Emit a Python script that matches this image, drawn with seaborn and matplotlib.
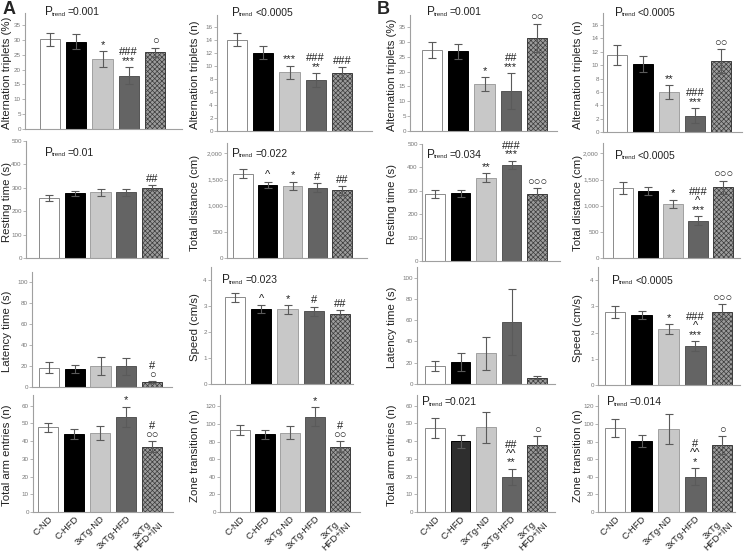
import pandas as pd
import seaborn as sns
from matplotlib import pyplot as plt
from matplotlib.ticker import FuncFormatter

W, H = 746, 552

groups = ["C-ND", "C-HFD", "3xTg-ND", "3xTg-HFD", "3xTg\nHFD+INI"]

# ---- panel A : mean and SEM per group ----
a_alt_pct = [30.1, 29.4, 23.5, 17.9, 25.8]
a_alt_pct_sem = [2.1, 2.4, 2.6, 2.9, 1.6]
a_alt_n = [14.0, 12.0, 9.0, 7.8, 8.9]
a_alt_n_sem = [1.0, 1.0, 1.0, 1.1, 0.85]
a_rest = [257, 276, 281, 281, 300]
a_rest_sem = [14, 9, 14, 14, 11]
a_dist = [1610, 1395, 1380, 1345, 1295]
a_dist_sem = [88, 63, 82, 84, 83]
a_lat = [18.6, 17.4, 20.4, 19.9, 4.6]
a_lat_sem = [5.4, 3.8, 8.5, 8.0, 1.0]
a_speed = [3.34, 2.89, 2.87, 2.80, 2.69]
a_speed_sem = [0.17, 0.14, 0.16, 0.18, 0.15]
a_arm = [47.9, 44.1, 44.5, 53.6, 36.9]
a_arm_sem = [2.5, 2.9, 3.8, 5.7, 2.9]
a_zone = [93.1, 88.1, 90.0, 108.0, 74.3]
a_zone_sem = [5.8, 5.4, 7.3, 10.8, 6.2]

# ---- panel B ----
b_alt_pct = [27.2, 26.8, 15.7, 13.4, 31.3]
b_alt_pct_sem = [2.8, 2.6, 2.3, 6.0, 4.8]
b_alt_n = [11.5, 10.15, 6.0, 2.45, 10.65]
b_alt_n_sem = [1.5, 1.15, 1.0, 1.1, 1.75]
b_rest = [286, 289, 356, 410, 286]
b_rest_sem = [18, 14, 18, 18, 26]
b_dist = [1340, 1280, 1032, 710, 1350]
b_dist_sem = [120, 75, 85, 85, 130]
b_lat = [17.0, 20.8, 29.0, 58.7, 6.0]
b_lat_sem = [5.0, 8.3, 15.5, 31.0, 1.6]
b_speed = [2.78, 2.67, 2.13, 1.48, 2.80]
b_speed_sem = [0.24, 0.15, 0.18, 0.18, 0.28]
b_arm = [47.4, 39.8, 47.7, 19.7, 38.0]
b_arm_sem = [5.6, 3.8, 8.7, 4.6, 4.7]
b_zone = [95.4, 80.8, 94.6, 40.2, 75.9]
b_zone_sem = [10.6, 6.9, 17.2, 9.6, 10.3]

# significance marks above each bar (top line first)
a_alt_pct_marks = ["", "", "*", "###\n***", "\u25cb"]
a_alt_n_marks = ["", "", "***", "###\n**", "###"]
a_rest_marks = ["", "", "", "", "##"]
a_dist_marks = ["", "^", "*", "#", "##"]
a_lat_marks = ["", "", "", "", "#\n\u25cb"]
a_speed_marks = ["", "^", "*", "#", "##"]
a_arm_marks = ["", "", "", "*", "#\n\u25cb\u25cb"]
a_zone_marks = ["", "", "", "*", "#\n\u25cb\u25cb"]
b_alt_pct_marks = ["", "", "*", "##\n***", "\u25cb\u25cb"]
b_alt_n_marks = ["", "", "**", "###\n***", "\u25cb\u25cb"]
b_rest_marks = ["", "", "**", "###\n***", "\u25cb\u25cb\u25cb"]
b_dist_marks = ["", "", "*", "###\n^\n***", "\u25cb\u25cb\u25cb"]
b_lat_marks = ["", "", "", "", ""]
b_speed_marks = ["", "", "*", "###\n^\n***", "\u25cb\u25cb\u25cb"]
b_arm_marks = ["", "", "", "##\n^^\n**", "\u25cb"]
b_zone_marks = ["", "", "", "#\n^^\n*", "\u25cb"]

# (panel, row, col, ylabel, mean, sem, yticks, ymax, marks, p-trend)
panels = [
    ("A", 0, 0, "Alternation triplets (%)", a_alt_pct, a_alt_pct_sem, range(0, 36, 5), 39, a_alt_pct_marks, "=0.001"),
    ("A", 0, 1, "Alternation triplets (n)", a_alt_n, a_alt_n_sem, range(0, 17, 2), 17.8, a_alt_n_marks, "<0.0005"),
    ("A", 1, 0, "Resting time (s)", a_rest, a_rest_sem, range(0, 501, 100), 500, a_rest_marks, "=0.01"),
    ("A", 1, 1, "Total distance (cm)", a_dist, a_dist_sem, range(0, 2001, 500), 2200, a_dist_marks, "=0.022"),
    ("A", 2, 0, "Latency time (s)", a_lat, a_lat_sem, range(0, 101, 20), 110, a_lat_marks, None),
    ("A", 2, 1, "Speed (cm/s)", a_speed, a_speed_sem, range(0, 5), 4.5, a_speed_marks, "=0.023"),
    ("A", 3, 0, "Total arm entries (n)", a_arm, a_arm_sem, range(0, 61, 10), 66, a_arm_marks, None),
    ("A", 3, 1, "Zone transition (n)", a_zone, a_zone_sem, range(0, 121, 20), 133, a_zone_marks, None),
    ("B", 0, 0, "Alternation triplets (%)", b_alt_pct, b_alt_pct_sem, range(0, 36, 5), 39, b_alt_pct_marks, "=0.001"),
    ("B", 0, 1, "Alternation triplets (n)", b_alt_n, b_alt_n_sem, range(0, 17, 2), 17.8, b_alt_n_marks, "<0.0005"),
    ("B", 1, 0, "Resting time (s)", b_rest, b_rest_sem, range(0, 501, 100), 500, b_rest_marks, "=0.034"),
    ("B", 1, 1, "Total distance (cm)", b_dist, b_dist_sem, range(0, 2001, 500), 2200, b_dist_marks, "<0.0005"),
    ("B", 2, 0, "Latency time (s)", b_lat, b_lat_sem, range(0, 101, 20), 110, b_lat_marks, None),
    ("B", 2, 1, "Speed (cm/s)", b_speed, b_speed_sem, range(0, 5), 4.5, b_speed_marks, "<0.0005"),
    ("B", 3, 0, "Total arm entries (n)", b_arm, b_arm_sem, range(0, 61, 10), 66, b_arm_marks, "=0.021"),
    ("B", 3, 1, "Zone transition (n)", b_zone, b_zone_sem, range(0, 121, 20), 133, b_zone_marks, "=0.014"),
]

# axes box in pixels: left, right, y of zero, y of top, centre of first bar, centre of last bar
layout = {
    ("A", 0, 0): (25, 182, 129, 13, 50, 155),
    ("A", 0, 1): (217, 372, 131, 15, 237, 342),
    ("A", 1, 0): (26, 168, 258, 141, 49, 152),
    ("A", 1, 1): (227, 367, 258, 143, 243, 342),
    ("A", 2, 0): (32, 172, 387, 272, 49, 152),
    ("A", 2, 1): (211, 353, 384, 267, 235, 340),
    ("A", 3, 0): (33, 173, 512, 395, 48, 152),
    ("A", 3, 1): (220, 360, 512, 395, 240, 340),
    ("B", 0, 0): (410, 557, 131, 15, 432, 537),
    ("B", 0, 1): (603, 742, 132, 13, 617, 721),
    ("B", 1, 0): (422, 560, 261, 144, 435, 537),
    ("B", 1, 1): (603, 740, 258, 143, 623, 723),
    ("B", 2, 0): (417, 555, 384, 267, 435, 537),
    ("B", 2, 1): (598, 740, 385, 267, 615, 722),
    ("B", 3, 0): (417, 555, 512, 395, 435, 537),
    ("B", 3, 1): (598, 735, 512, 395, 615, 722),
}
ptrend_pos = {
    ("A", 0, 0): (45, 12), ("A", 0, 1): (232, 13), ("A", 1, 0): (45, 153),
    ("A", 1, 1): (232, 154), ("A", 2, 1): (222, 280),
    ("B", 0, 0): (427, 12), ("B", 0, 1): (615, 13), ("B", 1, 0): (427, 155),
    ("B", 1, 1): (615, 156), ("B", 2, 1): (612, 281), ("B", 3, 0): (422, 402),
    ("B", 3, 1): (607, 402),
}
ylabel_x = {("A", 0): 7, ("A", 1): 195, ("B", 0): 392, ("B", 1): 578}

bar_colors = ["#ffffff", "#000000", "#c8c8c8", "#646464", "#9c9c9c"]
edge_colors = ["#8a8a8a", "#000000", "#a0a0a0", "#555555", "#3c3c3c"]

sns.set_theme(style="white")
plt.rcParams["font.family"] = ["Liberation Sans", "DejaVu Sans"]
plt.rcParams["hatch.linewidth"] = 0.5
TXT = "#222222"

fig = plt.figure(figsize=(W / 100, H / 100), dpi=100)


def fx(x):
    return x / W


def fy(y):
    return 1 - y / H


for panel, row, col, ylabel, mean, sem, yticks, ymax, marks, ptrend in panels:
    left, right, zero, top, c0, c4 = layout[(panel, row, col)]
    ax = fig.add_axes([fx(left), fy(zero), (right - left) / W, (zero - top) / H])
    step = (c4 - c0) / 4
    colors = list(bar_colors)
    if (panel, row, col) == ("B", 3, 0):
        colors[1] = "#2e2e2e"
    df = pd.DataFrame({"group": groups, "value": mean})
    sns.barplot(data=df, x="group", y="value", hue="group", palette=colors,
                legend=False, width=0.78, errorbar=None, ax=ax, saturation=1)
    for i, bar in enumerate(ax.patches):
        bar.set_edgecolor(edge_colors[i])
        bar.set_linewidth(0.7)
    ax.patches[4].set_hatch("xxxxxxx")
    ax.errorbar(range(5), mean, yerr=sem, fmt="none", ecolor="#5a5a5a",
                elinewidth=0.8, capsize=3, capthick=0.8, zorder=5)
    # one text per stack of significance marks, sitting on the error-bar cap
    for i, m in enumerate(marks):
        if m:
            ax.annotate(m, (i, mean[i] + sem[i]), xytext=(0, 1),
                        textcoords="offset points", ha="center", va="bottom",
                        fontsize=8, linespacing=0.85, color=TXT)
    ax.set_xlim((left - c0) / step, (right - c0) / step)
    ax.set_ylim(0, ymax)
    ax.set_yticks(list(yticks))
    ax.yaxis.set_major_formatter(FuncFormatter(lambda v, p: f"{v:,.0f}"))
    ax.set_xlabel("")
    ax.set_ylabel("")
    for s in ["top", "right"]:
        ax.spines[s].set_visible(False)
    for s in ["left", "bottom"]:
        ax.spines[s].set_color("#a0a0a0")
        ax.spines[s].set_linewidth(0.8)
    ax.tick_params(axis="y", length=2, width=0.5, color="#999999",
                   labelsize=4.5, labelcolor="#777777", pad=1, left=True)
    if row == 3:
        ax.tick_params(axis="x", length=0, pad=1.5)
        ax.set_xticks(range(5))
        ax.set_xticklabels(groups, rotation=45, ha="right", va="top",
                           rotation_mode="anchor", fontsize=6.8,
                           multialignment="center", linespacing=0.9, color=TXT)
    else:
        ax.set_xticks([])
    fig.text(fx(ylabel_x[(panel, col)]), fy((zero + top) / 2 + 2), ylabel,
             rotation=90, ha="center", va="center", fontsize=8.2, color=TXT)
    if ptrend:
        px, py = ptrend_pos[(panel, row, col)]
        fig.text(fx(px), fy(py), "P", ha="left", va="center", fontsize=8.5, color=TXT)
        fig.text(fx(px + 7), fy(py + 2), "trend", ha="left", va="center",
                 fontsize=4.5, color=TXT)
        fig.text(fx(px + 23), fy(py), ptrend, ha="left", va="center",
                 fontsize=7.5, color=TXT)

fig.text(fx(3), fy(10), "A", fontsize=13, fontweight="bold", ha="left", va="center")
fig.text(fx(377), fy(10), "B", fontsize=13, fontweight="bold", ha="left", va="center")

fig.savefig("out.png", dpi=100)
